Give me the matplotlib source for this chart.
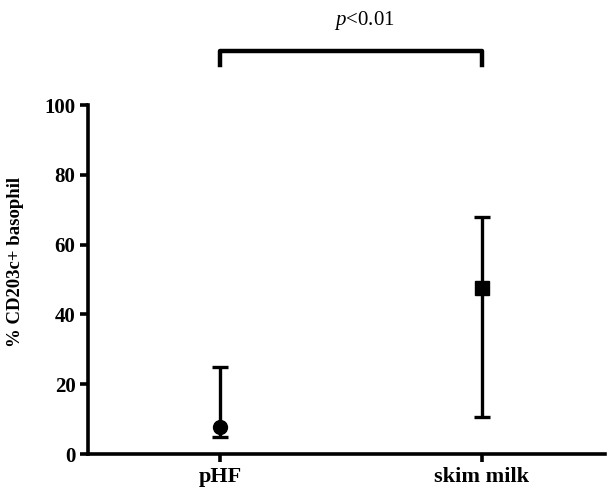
import matplotlib
matplotlib.use("Agg")
import matplotlib.pyplot as plt
import numpy as np

categories = ["pHF", "skim milk"]
centers = [7.6, 47.6]
lower = [4.9, 10.5]
upper = [25.0, 67.9]
markers = ["o", "s"]
yticks = [0, 20, 40, 60, 80, 100]

plt.rcParams['font.family'] = ['Liberation Serif', 'DejaVu Serif']
plt.rcParams['mathtext.fontset'] = 'custom'
plt.rcParams['mathtext.it'] = 'Liberation Serif:italic'
plt.rcParams['mathtext.rm'] = 'Liberation Serif'

fig = plt.figure(figsize=(6.11, 4.92), dpi=100)
ax = fig.add_axes([0.144, 0.0772, 0.846, 0.7093])

xs = np.arange(len(categories))
for x, c, lo, hi, m in zip(xs, centers, lower, upper, markers):
    ax.errorbar([x], [c], yerr=[[c - lo], [hi - c]], fmt=m, color='black',
                ecolor='black', elinewidth=2.4, capsize=5.5, capthick=2.4,
                markersize=10 if m == 'o' else 9.5)

ax.set_xlim(-0.504, 1.47)
ax.set_ylim(0, 100)
ax.set_xticks(xs)
ax.set_xticklabels(categories, fontsize=16, fontweight='bold')
ax.set_yticks(yticks)
ax.set_yticklabels([str(t) for t in yticks], fontsize=15, fontweight='bold')
for s in ['top', 'right']:
    ax.spines[s].set_visible(False)
for s in ['left', 'bottom']:
    ax.spines[s].set_linewidth(2.6)
ax.tick_params(axis='both', width=2.6, length=6, direction='out', pad=3)
ax.set_ylabel("% CD203c+ basophil", fontsize=13.5, fontweight='bold')
ax.yaxis.set_label_coords(-0.124, 0.55)

# significance bracket
ax.plot([0, 0, 1, 1], [111.5, 115.5, 115.5, 111.5], color='black', lw=3.2,
        clip_on=False, solid_joinstyle='round')
ax.text(0.55, 124.3, r"$p$<0.01", ha='center', va='center', fontsize=15,
        clip_on=False)

fig.savefig("out.png", dpi=100)
